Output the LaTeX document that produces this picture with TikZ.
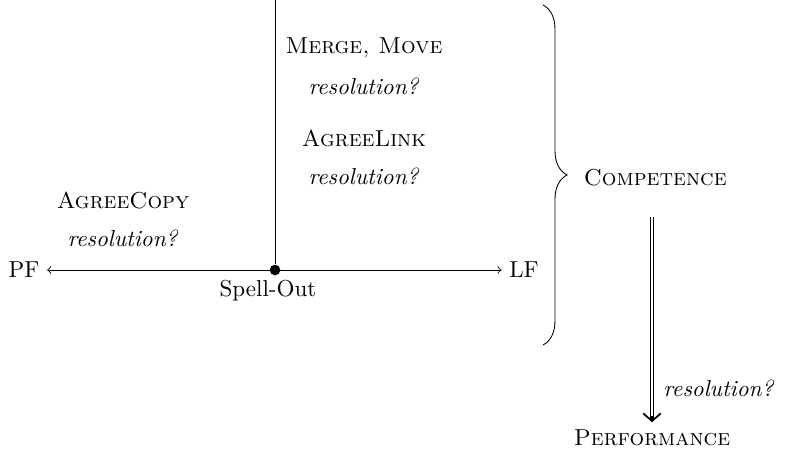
\documentclass[tikz,border=0pt]{standalone}
\usetikzlibrary{arrows.meta,decorations.pathreplacing}

\tikzset{%
  every label text/.style={
    inner sep=1pt,
    align=center
  },
  spell dot/.style={
    circle,
    fill,
    inner sep=0pt,
    minimum size=0.17cm
  },
  big brace/.style={
    decorate,
    decoration={brace, amplitude=0.384cm}
  },
  res shaft/.style={
    double,
    double distance=1.1pt,
    shorten >=1.2pt
  },
  res tip/.style={
    line width=0.8pt,
    -{Straight Barb[length=3.5pt,width=8pt]}
  },
}

\begin{document}
\begin{tikzpicture}[x=1.6cm, y=1.6cm, >=to,
    every node/.append style={font=\fontsize{10.5}{12.6}\selectfont}]
    \useasboundingbox (0,0) rectangle (7.86,4.5);

    % interfaces
    \node [spell dot] (spell) at (2.75,1.80) {};
    \node (pf) at (0.24,1.80) {PF};
    \node (lf) at (5.24,1.80) {LF};
    \node (spellout) at (2.68,1.59) {Spell-Out};
    \coordinate (top) at (2.75,4.50);

    \draw [<->] (pf) -- (lf);
    \draw (spell) -- (top);

    % operations
    \foreach \t/\x/\y [count=\i] in {{\textsc{AgreeCopy}}/1.23/2.50,
                                     {\textsc{Merge, Move}}/3.64/4.02,
                                     {\textsc{AgreeLink}}/3.64/3.12}
    {
      \node [every label text] (op-\i) at (\x,\y) {\t};
      \node [every label text] (res-\i) at (\x,\y-0.38) {\textit{resolution?}};
    }

    % competence and performance
    \coordinate (brace top) at (5.43,4.45);
    \coordinate (brace bot) at (5.43,1.05);
    \draw [big brace] (brace top) -- (brace bot);
    \node [anchor=west] (comp) at (5.76,2.72) {\textsc{Competence}};
    \node (perf) at (6.52,0.12) {\textsc{Performance}};
    \coordinate (arrow top) at (6.52,2.33);
    \coordinate (tip start) at (6.52,0.34);

    \draw [res shaft] (arrow top) -- (perf.north);
    \draw [res tip] (tip start) -- (perf.north);
    \node [anchor=east] (res-4) at (7.82,0.62) {\textit{resolution?}};

\end{tikzpicture}
\end{document}
